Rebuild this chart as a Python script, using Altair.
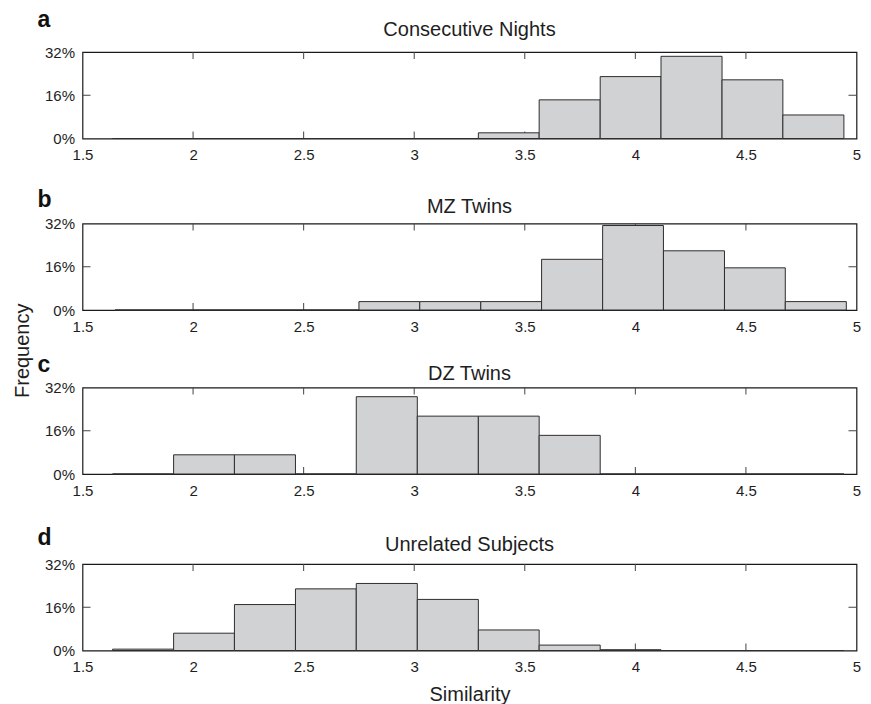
import altair as alt
import pandas as pd

# ---------------- data ----------------
bin_edges = [1.636, 1.912, 2.187, 2.463, 2.738, 3.014, 3.290, 3.565, 3.841, 4.116, 4.392, 4.667, 4.943]
bin_edges_mz = [1.647, 1.923, 2.198, 2.474, 2.750, 3.025, 3.301, 3.576, 3.852, 4.127, 4.403, 4.678, 4.954]

freq_nights = [0, 0, 0, 0, 0, 0, 2.1, 14.3, 22.9, 30.4, 21.7, 8.7]
freq_mz = [0, 0, 0, 0, 3.1, 3.1, 3.1, 18.75, 31.25, 21.9, 15.6, 3.1]
freq_dz = [0, 7.1, 7.1, 0, 28.6, 21.4, 21.4, 14.3, 0, 0, 0, 0]
freq_unrelated = [0.5, 6.4, 17.0, 22.8, 24.8, 18.9, 7.6, 2.0, 0.3, 0, 0, 0]

panel_titles = ["Consecutive Nights", "MZ Twins", "DZ Twins", "Unrelated Subjects"]
panel_letters = ["a", "b", "c", "d"]
panel_edges = [bin_edges, bin_edges_mz, bin_edges, bin_edges]
panel_freqs = [freq_nights, freq_mz, freq_dz, freq_unrelated]

x_ticks = [1.5, 2, 2.5, 3, 3.5, 4, 4.5, 5]
y_ticks = [0, 16, 32]

# ---------------- style ----------------
FONT = "Liberation Sans"
W, H = 774, 86.5
TICK = 7
title_y = [-16, -11, -7.5, -13.5]
letter_y = [-25, -16.5, -15.5, -19.5]
BAR_FILL = "#d1d2d4"
BAR_STROKE = "#2e2e2e"
TICK_COLOR = "#444444"
TEXT = "#1e1e1e"

xs = alt.Scale(domain=[1.5, 5], nice=False, zero=False)
ys = alt.Scale(domain=[0, 32], nice=False)


def panel(i):
    last = i == 3
    edges = panel_edges[i]
    df = pd.DataFrame({"start": edges[:-1], "end": edges[1:], "freq": panel_freqs[i]})

    xaxis_kw = dict(values=x_ticks, format="~g", ticks=False, domain=False, grid=False,
                    labelFlush=False, labelOverlap=False, labelPadding=9,
                    labelFont=FONT, labelFontSize=15, labelColor=TEXT)
    if last:
        xaxis = alt.Axis(title="Similarity", titleFont=FONT, titleFontSize=20,
                         titleFontWeight="normal", titleColor=TEXT, titleBaseline="alphabetic",
                         titleY=50, **xaxis_kw)
    else:
        xaxis = alt.Axis(title=None, **xaxis_kw)
    yaxis = alt.Axis(values=y_ticks, labelExpr="datum.value + '%'", ticks=False, domain=False,
                     grid=False, labelFlush=False, labelOverlap=False, labelPadding=8,
                     labelFont=FONT, labelFontSize=15, labelColor=TEXT, title=None)

    inner_x = pd.DataFrame({"v": x_ticks[1:-1]})
    inner_y = pd.DataFrame({"v": y_ticks[1:-1]})

    top_t = alt.Chart(inner_x).mark_rule(color=TICK_COLOR, strokeWidth=1).encode(
        x=alt.X("v:Q", scale=xs, axis=xaxis), y=alt.value(0), y2=alt.value(TICK))
    bot_t = alt.Chart(inner_x).mark_rule(color=TICK_COLOR, strokeWidth=1).encode(
        x=alt.X("v:Q", scale=xs, axis=xaxis), y=alt.value(H), y2=alt.value(H - TICK))
    left_t = alt.Chart(inner_y).mark_rule(color=TICK_COLOR, strokeWidth=1).encode(
        y=alt.Y("v:Q", scale=ys, axis=yaxis), x=alt.value(0), x2=alt.value(8))
    right_t = alt.Chart(inner_y).mark_rule(color=TICK_COLOR, strokeWidth=1).encode(
        y=alt.Y("v:Q", scale=ys, axis=yaxis), x=alt.value(W), x2=alt.value(W - 8))

    bars = alt.Chart(df).mark_rect(fill=BAR_FILL, stroke=BAR_STROKE, strokeWidth=1).encode(
        x=alt.X("start:Q", scale=xs, axis=xaxis),
        x2="end:Q",
        y=alt.Y("freq:Q", scale=ys, axis=yaxis),
        y2=alt.datum(0),
    )

    letter = alt.Chart(pd.DataFrame({"t": [panel_letters[i]]})).mark_text(
        align="left", baseline="alphabetic", fontSize=23, fontWeight="bold", font=FONT, color="#111111"
    ).encode(text="t:N", x=alt.value(-45), y=alt.value(letter_y[i]))

    title = alt.Chart(pd.DataFrame({"t": [panel_titles[i]]})).mark_text(
        align="center", baseline="alphabetic", fontSize=20, font=FONT, color=TEXT
    ).encode(text="t:N", x=alt.value(W / 2), y=alt.value(title_y[i]))

    return alt.layer(top_t, bot_t, left_t, right_t, bars, letter, title).properties(width=W, height=H)


upper = alt.vconcat(panel(0), panel(1), spacing=84.5, bounds="flush")
lower = alt.vconcat(panel(2), panel(3), spacing=89.5, bounds="flush")

chart = alt.vconcat(upper, lower, spacing=17.5, bounds="full").properties(
    title=alt.TitleParams("Frequency", orient="left", anchor="middle", font=FONT, fontSize=20,
                          fontWeight="normal", color=TEXT, offset=4, dx=6),
    padding={"left": 4.5, "top": 0, "right": 0, "bottom": 0},
).configure_view(stroke="#1a1a1a", strokeWidth=1.2)

chart.save("out.html", embed_options={"renderer": "svg", "actions": False})
